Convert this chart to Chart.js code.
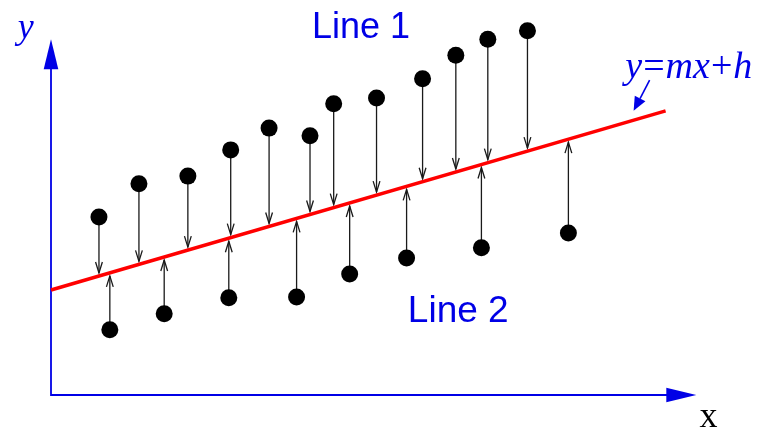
<!DOCTYPE html>
<html>
<head>
<meta charset="utf-8">
<title>Least squares line</title>
<script src="https://cdn.jsdelivr.net/npm/chart.js@4/dist/chart.umd.min.js"></script>
<style>
  html, body { margin: 0; padding: 0; background: #ffffff; }
  #wrap { width: 763px; height: 428px; }
</style>
</head>
<body>
<div id="wrap"><canvas id="c" width="763" height="428"></canvas></div>
<script>
// Observations above the fitted line ("Line 1")
const aboveX = [0.75, 1.375, 2.14, 2.81, 3.41, 4.05, 4.42, 5.09, 5.81, 6.33, 6.83, 7.45];
const aboveY = [2.78, 3.30, 3.42, 3.83, 4.17, 4.05, 4.55, 4.64, 4.94, 5.31, 5.56, 5.69];
// Observations below the fitted line ("Line 2")
const belowX = [0.92, 1.77, 2.78, 3.84, 4.67, 5.56, 6.73, 8.09];
const belowY = [1.02, 1.27, 1.52, 1.53, 1.89, 2.14, 2.30, 2.53];
// Fitted line y = m x + h and its drawn extent
const slopeM = 0.2914;
const interceptH = 1.64;
const lineStartX = 0;
const lineEndX = 9.61;
// Axis extents (arrow tips)
const axisTipX = 10.09;
const axisTipY = 5.56;
// Labels
const labelLine1 = "Line 1";
const labelLine2 = "Line 2";
const labelEq = ["y", "=", "mx", "+", "h"];
const labelX = "x";
const labelY = "y";

const BLUE = "#0000e6";

const points = aboveX.map((x, i) => ({ x, y: aboveY[i] }))
  .concat(belowX.map((x, i) => ({ x, y: belowY[i] })));
const fitLine = [lineStartX, lineEndX].map(x => ({ x, y: slopeM * x + interceptH }));

function arrowHeadFilled(ctx, x1, y1, x2, y2, len, half) {
  const a = Math.atan2(y2 - y1, x2 - x1);
  const bx = x2 - len * Math.cos(a), by = y2 - len * Math.sin(a);
  ctx.beginPath();
  ctx.moveTo(x2, y2);
  ctx.lineTo(bx + half * Math.sin(a), by - half * Math.cos(a));
  ctx.lineTo(bx - half * Math.sin(a), by + half * Math.cos(a));
  ctx.closePath();
  ctx.fill();
}

function arrowHeadOpen(ctx, x1, y1, x2, y2, len, half) {
  const a = Math.atan2(y2 - y1, x2 - x1);
  const bx = x2 - len * Math.cos(a), by = y2 - len * Math.sin(a);
  ctx.beginPath();
  ctx.moveTo(bx + half * Math.sin(a), by - half * Math.cos(a));
  ctx.lineTo(x2, y2);
  ctx.lineTo(bx - half * Math.sin(a), by + half * Math.cos(a));
  ctx.stroke();
}

// Axes and residual arrows, drawn under the points
const underlay = {
  id: "underlay",
  beforeDatasetsDraw(chart) {
    const ctx = chart.ctx, xs = chart.scales.x, ys = chart.scales.y;
    const ox = xs.getPixelForValue(0), oy = ys.getPixelForValue(0);
    const tx = xs.getPixelForValue(axisTipX), ty = ys.getPixelForValue(axisTipY);
    ctx.save();
    ctx.strokeStyle = BLUE; ctx.fillStyle = BLUE; ctx.lineWidth = 1.8;
    ctx.beginPath();
    ctx.moveTo(ox, ty + 20); ctx.lineTo(ox, oy); ctx.lineTo(tx - 20, oy);
    ctx.stroke();
    arrowHeadFilled(ctx, ox, oy, ox, ty, 30, 7.3);
    arrowHeadFilled(ctx, ox, oy, tx, oy, 30, 7.3);

    // residuals from each observation to the fitted line
    ctx.strokeStyle = "#1a1a1a"; ctx.lineWidth = 1.3;
    points.forEach(p => {
      const px = xs.getPixelForValue(p.x), py = ys.getPixelForValue(p.y);
      const ly = ys.getPixelForValue(slopeM * p.x + interceptH);
      const dir = ly > py ? 1 : -1;
      const tipY = ly - dir * 3;
      ctx.beginPath(); ctx.moveTo(px, py); ctx.lineTo(px, tipY); ctx.stroke();
      arrowHeadOpen(ctx, px, py, px, tipY, 11, 3.4);
    });
    ctx.restore();
  },
  afterDatasetsDraw(chart) {
    const ctx = chart.ctx, xs = chart.scales.x, ys = chart.scales.y;
    const X = v => xs.getPixelForValue(v), Y = v => ys.getPixelForValue(v);
    ctx.save();
    ctx.textBaseline = "alphabetic"; ctx.textAlign = "left";
    ctx.fillStyle = BLUE;
    ctx.font = '36px "Liberation Sans", Arial, sans-serif';
    ctx.fillText(labelLine1, X(4.08), Y(5.58));
    ctx.font = '37px "Liberation Sans", Arial, sans-serif';
    ctx.fillText(labelLine2, X(5.58), Y(1.14));

    ctx.font = 'italic 36px "Liberation Serif", "Times New Roman", serif';
    ctx.fillText(labelY, X(-0.52), Y(5.58));

    // equation label y=mx+h
    let ex = X(8.98);
    const ey = Y(4.95);
    labelEq.forEach(part => {
      const upright = part === "=" || part === "+";
      ctx.font = (upright ? '' : 'italic ') + '38px "Liberation Serif", "Times New Roman", serif';
      ctx.fillText(part, ex, ey);
      ex += ctx.measureText(part).width + 1;
    });
    // pointer from the equation to the line
    const ax1 = X(9.36), ay1 = Y(4.92), ax2 = X(9.11), ay2 = Y(4.44);
    ctx.strokeStyle = BLUE; ctx.lineWidth = 1.6;
    ctx.beginPath(); ctx.moveTo(ax1, ay1); ctx.lineTo(ax1 + (ax2 - ax1) * 0.6, ay1 + (ay2 - ay1) * 0.6); ctx.stroke();
    arrowHeadFilled(ctx, ax1, ay1, ax2, ay2, 14, 6);

    ctx.fillStyle = "#000000";
    ctx.font = '36px "Liberation Serif", "Times New Roman", serif';
    ctx.fillText(labelX, X(10.14), Y(-0.5));
    ctx.restore();
  }
};

new Chart(document.getElementById("c"), {
  data: {
    datasets: [
      {
        type: "line",
        data: fitLine,
        borderColor: "#ff0000",
        borderWidth: 3.5,
        pointRadius: 0,
        fill: false,
        clip: false,
        order: 2
      },
      {
        type: "scatter",
        data: points,
        backgroundColor: "#000000",
        borderWidth: 0,
        pointRadius: 8.5,
        clip: false,
        order: 1
      }
    ]
  },
  options: {
    responsive: false,
    animation: false,
    events: [],
    layout: { padding: { left: 51, right: 8, top: 11, bottom: 33 } },
    plugins: { legend: { display: false }, tooltip: { enabled: false } },
    scales: {
      x: { type: "linear", min: 0, max: 11, display: false },
      y: { type: "linear", min: 0, max: 6, display: false }
    }
  },
  plugins: [underlay]
});
</script>
</body>
</html>
